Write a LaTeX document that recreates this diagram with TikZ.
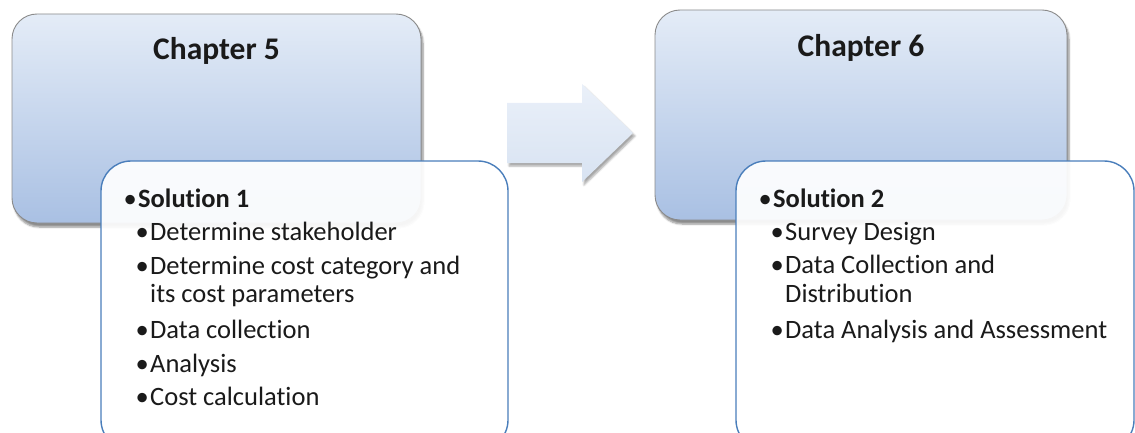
\documentclass[tikz,border=0pt]{standalone}
\usepackage{fontspec}
\setmainfont[RawFeature={-liga;-clig;-calt;-dlig}]{Carlito}
\usetikzlibrary{shadows.blur}

\definecolor{chtop}{HTML}{E4ECF7}
\definecolor{chbot}{HTML}{A9C0E3}
\definecolor{chedge}{HTML}{8A8A8A}
\definecolor{solblue}{HTML}{4A7EBB}
\definecolor{arrtop}{HTML}{EAF0F9}
\definecolor{arrbot}{HTML}{D8E3F2}
\definecolor{ink}{HTML}{1A1A1A}

\tikzset{
  chapterbox/.style={rounded corners=25pt, draw=chedge, line width=0.9pt,
    top color=chtop, bottom color=chbot,
    blur shadow={shadow xshift=2pt, shadow yshift=-4pt, shadow blur steps=6, shadow opacity=45}},
  solbox/.style={rounded corners=30pt, draw=solblue, line width=1.4pt,
    fill=white, fill opacity=0.92},
  flowarrow/.style={top color=arrtop, bottom color=arrbot, draw=none,
    blur shadow={shadow xshift=2pt, shadow yshift=-3pt, shadow blur steps=5, shadow opacity=35}},
  title/.style={font=\fontsize{31.5}{34}\selectfont\bfseries, text=ink, inner sep=0pt, anchor=base},
  topitem/.style={font=\fontsize{26.5}{29}\selectfont\bfseries, text=ink, inner sep=0pt, anchor=base west},
  subitem/.style={font=\fontsize{26.5}{29}\selectfont, text=ink, inner sep=0pt, anchor=base west},
}
\newcommand{\bul}{\llap{\mdseries•\kern1.5pt}}

\begin{document}
\begin{tikzpicture}[x=1pt, y=-1pt]
  \useasboundingbox (0,0) rectangle (1135,433);
  \clip (0,0) rectangle (1135,433);

  % chapter panels
  \path[chapterbox] (12,14) rectangle (421,223);
  \path[chapterbox] (655,10) rectangle (1067,220);

  % block arrow between the chapters
  \path[flowarrow] (507,103) -- (582,103) -- (582,84) -- (633,133)
    -- (582,182) -- (582,163) -- (507,163) -- cycle;

  % solution panels overlapping the chapters
  \path[solbox] (101,161) rectangle (508,450);
  \path[solbox] (736,161) rectangle (1134,450);

  % titles
  \node[title] (ch5) at (216.5,60) {Chapter 5};
  \node[title] (ch6) at (861,57) {Chapter 6};

  % solution 1 contents
  \node[topitem] (s1) at (138,207) {\bul Solution 1};
  \node[subitem] (s1a) at (150,240) {\bul Determine stakeholder};
  \node[subitem] (s1b) at (150,274) {\bul Determine cost category and};
  \node[subitem] (s1b2) at (150,302) {its cost parameters};
  \node[subitem] (s1c) at (150,338) {\bul Data collection};
  \node[subitem] (s1d) at (150,372) {\bul Analysis};
  \node[subitem] (s1e) at (150,405) {\bul Cost calculation};

  % solution 2 contents
  \node[topitem] (s2) at (773,207) {\bul Solution 2};
  \node[subitem] (s2a) at (785,240) {\bul Survey Design};
  \node[subitem] (s2b) at (785,273) {\bul Data Collection and};
  \node[subitem] (s2b2) at (785,302) {Distribution};
  \node[subitem] (s2c) at (785,338) {\bul Data Analysis and Assessment};
\end{tikzpicture}
\end{document}
